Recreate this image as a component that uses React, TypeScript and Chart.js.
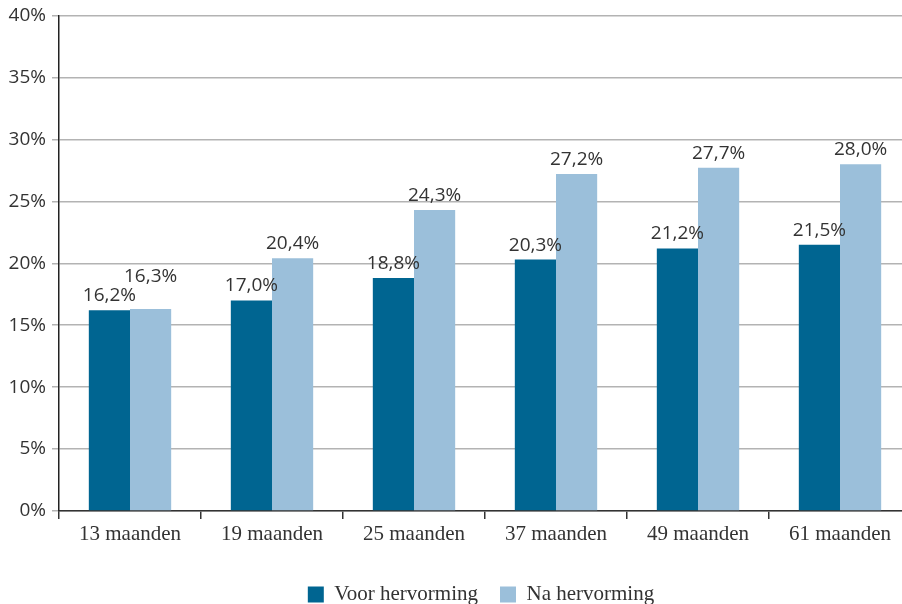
import React, { useEffect, useRef } from "react";
import { Chart, registerables } from "chart.js";

Chart.register(...registerables);

const categories = ["13 maanden", "19 maanden", "25 maanden", "37 maanden", "49 maanden", "61 maanden"];
const voorHervorming = [16.2, 17.0, 18.8, 20.3, 21.2, 21.5];
const naHervorming = [16.3, 20.4, 24.3, 27.2, 27.7, 28.0];
const seriesNames = ["Voor hervorming", "Na hervorming"];
const yTicksMax = 40;
const yTicksStep = 5;

const DARK = "#006591";
const LIGHT = "#9bbfda";
const TEXT = "#333333";

const fmt = (v: number) => v.toFixed(1).replace(".", ",") + "%";

const labelPlugin = {
  id: "barLabels",
  afterDatasetsDraw(chart: any) {
    const ctx = chart.ctx;
    ctx.save();
    ctx.font = '19px "Open Sans"';
    ctx.fillStyle = TEXT;
    ctx.textAlign = "center";
    ctx.textBaseline = "alphabetic";
    const m0 = chart.getDatasetMeta(0);
    const m1 = chart.getDatasetMeta(1);
    const d0 = chart.data.datasets[0].data as number[];
    const d1 = chart.data.datasets[1].data as number[];
    for (let i = 0; i < d0.length; i++) {
      const b0 = m0.data[i];
      const b1 = m1.data[i];
      const t0 = fmt(d0[i]);
      const t1 = fmt(d1[i]);
      const y0 = b0.y - 9;
      let y1 = b1.y - 9;
      const w0 = ctx.measureText(t0).width;
      const w1 = ctx.measureText(t1).width;
      const overlapX = b0.x + w0 / 2 > b1.x - w1 / 2;
      if (overlapX && Math.abs(y1 - y0) < 17) {
        y1 = y0 - 19;
      }
      ctx.fillText(t0, b0.x, y0);
      ctx.fillText(t1, b1.x, y1);
    }
    ctx.restore();
  },
};

export default function App() {
  const ref = useRef<HTMLCanvasElement | null>(null);
  useEffect(() => {
    if (!ref.current) return;
    const chart = new Chart(ref.current, {
      type: "bar",
      data: {
        labels: categories,
        datasets: [
          { label: seriesNames[0], data: voorHervorming, backgroundColor: DARK, categoryPercentage: 0.58, barPercentage: 1 },
          { label: seriesNames[1], data: naHervorming, backgroundColor: LIGHT, categoryPercentage: 0.58, barPercentage: 1 },
        ],
      },
      options: {
        responsive: false,
        animation: false,
        layout: { padding: { top: 15, left: 0, right: 0, bottom: 0 } },
        plugins: {
          tooltip: { enabled: false },
          legend: {
            position: "bottom",
            labels: {
              boxWidth: 16,
              boxHeight: 16,
              padding: 22,
              color: TEXT,
              font: { family: '"Liberation Serif"', size: 21 },
            },
          },
        },
        scales: {
          x: {
            grid: { display: true, drawOnChartArea: false, drawTicks: true, tickLength: 8, color: "#333", lineWidth: 1.5, offset: true },
            border: { display: true, color: "#333", width: 1.5 },
            ticks: { color: TEXT, padding: 3, font: { family: '"Liberation Serif"', size: 21 }, maxRotation: 0 },
            afterFit: (s: any) => { s.height = 51; },
          },
          y: {
            min: 0,
            max: yTicksMax,
            ticks: { stepSize: yTicksStep, color: TEXT, padding: 6, font: { family: '"Open Sans"', size: 19, lineHeight: 1 }, callback: (v: any) => v + "%" },
            grid: { color: "#b3b3b3", lineWidth: 1.5, tickLength: 7 },
            border: { display: true, color: "#222", width: 1.5 },
            afterFit: (s: any) => { s.width = 59; },
          },
          yR: {
            position: "right",
            display: true,
            grid: { display: false },
            border: { display: false },
            ticks: { display: false },
            afterFit: (s: any) => { s.width = 51; },
          },
        },
      },
      plugins: [labelPlugin],
    });
    return () => chart.destroy();
  }, []);
  return (
    <div style={{ position: "absolute", left: 0, top: 0, width: 902, height: 604, overflow: "hidden", background: "#fff" }}>
      <canvas ref={ref} width={962} height={615} style={{ display: "block" }} />
    </div>
  );
}
